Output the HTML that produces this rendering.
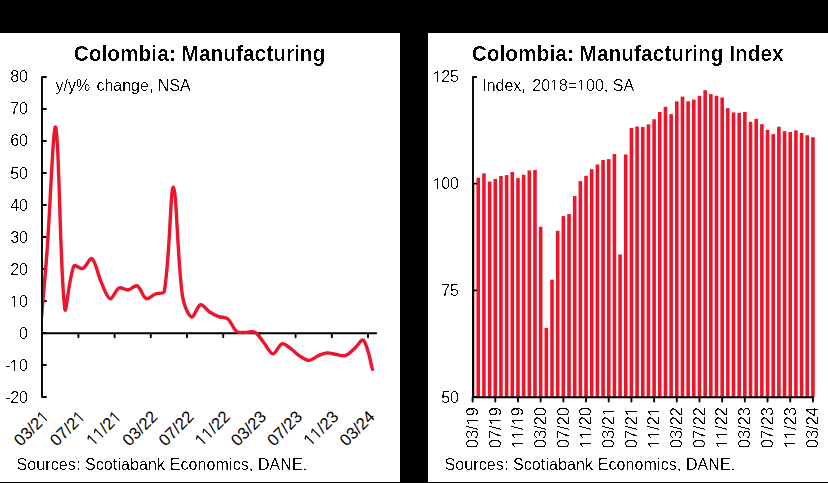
<!DOCTYPE html>
<html><head><meta charset="utf-8"><style>
html,body{margin:0;padding:0;background:#000;width:828px;height:483px;overflow:hidden}
svg{position:absolute;left:0;top:0;display:block}
text{font-family:"Liberation Sans",sans-serif;fill:#000;font-size:16px}
.b{font-weight:bold}
</style></head><body>
<svg width="828" height="483" viewBox="0 0 828 483">
<defs>
<filter id="th" x="0" y="0" width="828" height="483" filterUnits="userSpaceOnUse" color-interpolation-filters="sRGB"><feComponentTransfer><feFuncA type="linear" slope="12" intercept="-6.6"/></feComponentTransfer></filter>
<filter id="th2" x="0" y="0" width="828" height="483" filterUnits="userSpaceOnUse" color-interpolation-filters="sRGB"><feComponentTransfer><feFuncA type="linear" slope="12" intercept="-7.0"/></feComponentTransfer></filter>
<clipPath id="cl"><rect x="43" y="33" width="357" height="449"/></clipPath>
<clipPath id="cr"><rect x="472" y="33" width="356" height="449"/></clipPath>
</defs>
<rect x="0" y="0" width="828" height="483" fill="#000"/>
<rect x="0" y="33" width="400" height="449" fill="#fff"/>
<rect x="428" y="33" width="400" height="449" fill="#fff"/>
<path fill="none" stroke="#000" stroke-width="1.9" stroke-linecap="round" stroke-linejoin="round" d="M46,77 H42 V397 H46 M42,109 H46 M42,141 H46 M42,173 H46 M42,205 H46 M42,237 H46 M42,269 H46 M42,301 H46 M42,333 H46 M42,365 H46 M42,333.2 H376.2 M78.40,333.2 V337.3 M114.60,333.2 V337.3 M150.80,333.2 V337.3 M187.00,333.2 V337.3 M223.20,333.2 V337.3 M259.40,333.2 V337.3 M295.60,333.2 V337.3 M331.80,333.2 V337.3 M368.00,333.2 V337.3"/>
<path d="M37.65,359.63 C39.16,342.36 44.01,290.57 46.70,256.00 C50.04,213.13 53.25,119.99 55.75,127.31 C59.28,137.63 59.94,271.64 64.80,308.92 C65.97,317.90 68.88,277.18 73.85,266.08 C74.91,263.70 80.42,269.51 82.90,268.48 C86.45,267.00 89.83,257.02 91.95,258.56 C95.86,261.40 97.62,274.09 101.00,281.60 C103.65,287.48 106.56,297.52 110.05,298.75 C112.59,299.63 115.46,289.70 119.10,287.93 C121.49,286.77 125.24,290.31 128.15,289.98 C131.27,289.62 134.86,284.74 137.20,285.87 C140.90,287.66 142.59,297.10 146.25,298.74 C148.63,299.80 152.16,295.27 155.30,293.97 C158.20,292.77 163.85,294.20 164.35,291.24 C169.88,258.61 170.45,186.42 173.40,187.20 C176.48,188.01 177.46,260.23 182.45,296.00 C183.50,303.50 187.88,315.27 191.50,317.02 C193.91,318.19 197.12,305.71 200.55,304.76 C203.16,304.04 206.38,309.90 209.60,312.00 C212.42,313.84 215.50,315.43 218.65,316.60 C221.53,317.67 225.45,316.85 227.70,318.70 C231.49,321.82 232.93,328.61 236.75,331.50 C238.97,333.18 242.78,332.28 245.80,332.40 C248.81,332.52 252.47,330.84 254.85,332.20 C258.50,334.29 260.92,339.20 263.90,342.75 C266.96,346.40 269.85,353.62 272.95,353.80 C275.88,353.97 278.59,344.71 282.00,343.79 C284.62,343.07 288.21,346.94 291.05,348.90 C294.24,351.11 296.84,354.23 300.10,356.30 C302.87,358.06 306.17,360.50 309.15,360.40 C312.21,360.30 315.07,356.99 318.20,355.70 C321.10,354.50 324.19,353.12 327.25,352.92 C330.22,352.72 333.27,354.06 336.30,354.50 C339.30,354.93 342.67,356.40 345.35,355.53 C348.70,354.43 351.50,351.05 354.40,348.60 C357.54,345.95 361.71,338.23 363.45,340.22 C367.75,345.15 370.99,364.51 372.50,369.37" fill="none" stroke="#EC162C" stroke-width="3.4" stroke-linejoin="round" stroke-linecap="round" clip-path="url(#cl)"/>
<g clip-path="url(#cr)" fill="#EC162C">
<rect x="470.80" y="184.95" width="3.60" height="212.05"/>
<rect x="476.47" y="177.69" width="3.60" height="219.31"/>
<rect x="482.14" y="173.43" width="3.60" height="223.57"/>
<rect x="487.82" y="181.53" width="3.60" height="215.47"/>
<rect x="493.49" y="178.97" width="3.60" height="218.03"/>
<rect x="499.16" y="175.99" width="3.60" height="221.01"/>
<rect x="504.83" y="175.13" width="3.60" height="221.87"/>
<rect x="510.50" y="171.93" width="3.60" height="225.07"/>
<rect x="516.18" y="178.12" width="3.60" height="218.88"/>
<rect x="521.85" y="174.71" width="3.60" height="222.29"/>
<rect x="527.52" y="170.44" width="3.60" height="226.56"/>
<rect x="533.19" y="170.01" width="3.60" height="226.99"/>
<rect x="538.86" y="226.76" width="3.60" height="170.24"/>
<rect x="544.54" y="327.88" width="3.60" height="69.12"/>
<rect x="550.21" y="279.67" width="3.60" height="117.33"/>
<rect x="555.88" y="230.81" width="3.60" height="166.19"/>
<rect x="561.55" y="216.09" width="3.60" height="180.91"/>
<rect x="567.22" y="213.96" width="3.60" height="183.04"/>
<rect x="572.90" y="196.04" width="3.60" height="200.96"/>
<rect x="578.57" y="181.11" width="3.60" height="215.89"/>
<rect x="584.24" y="175.77" width="3.60" height="221.23"/>
<rect x="589.91" y="169.16" width="3.60" height="227.84"/>
<rect x="595.58" y="164.47" width="3.60" height="232.53"/>
<rect x="601.26" y="159.99" width="3.60" height="237.01"/>
<rect x="606.93" y="159.13" width="3.60" height="237.87"/>
<rect x="612.60" y="154.01" width="3.60" height="242.99"/>
<rect x="618.27" y="254.49" width="3.60" height="142.51"/>
<rect x="623.94" y="154.44" width="3.60" height="242.56"/>
<rect x="629.62" y="127.99" width="3.60" height="269.01"/>
<rect x="635.29" y="126.49" width="3.60" height="270.51"/>
<rect x="640.96" y="126.92" width="3.60" height="270.08"/>
<rect x="646.63" y="124.36" width="3.60" height="272.64"/>
<rect x="652.30" y="119.24" width="3.60" height="277.76"/>
<rect x="657.98" y="111.99" width="3.60" height="285.01"/>
<rect x="663.65" y="106.87" width="3.60" height="290.13"/>
<rect x="669.32" y="114.12" width="3.60" height="282.88"/>
<rect x="674.99" y="101.32" width="3.60" height="295.68"/>
<rect x="680.66" y="96.63" width="3.60" height="300.37"/>
<rect x="686.34" y="101.32" width="3.60" height="295.68"/>
<rect x="692.01" y="99.61" width="3.60" height="297.39"/>
<rect x="697.68" y="95.77" width="3.60" height="301.23"/>
<rect x="703.35" y="90.23" width="3.60" height="306.77"/>
<rect x="709.02" y="94.07" width="3.60" height="302.93"/>
<rect x="714.70" y="95.77" width="3.60" height="301.23"/>
<rect x="720.37" y="97.48" width="3.60" height="299.52"/>
<rect x="726.04" y="108.15" width="3.60" height="288.85"/>
<rect x="731.71" y="112.41" width="3.60" height="284.59"/>
<rect x="737.38" y="112.84" width="3.60" height="284.16"/>
<rect x="743.06" y="111.99" width="3.60" height="285.01"/>
<rect x="748.73" y="121.80" width="3.60" height="275.20"/>
<rect x="754.40" y="118.81" width="3.60" height="278.19"/>
<rect x="760.07" y="124.15" width="3.60" height="272.85"/>
<rect x="765.74" y="129.91" width="3.60" height="267.09"/>
<rect x="771.42" y="134.17" width="3.60" height="262.83"/>
<rect x="777.09" y="126.71" width="3.60" height="270.29"/>
<rect x="782.76" y="131.19" width="3.60" height="265.81"/>
<rect x="788.43" y="132.04" width="3.60" height="264.96"/>
<rect x="794.10" y="130.33" width="3.60" height="266.67"/>
<rect x="799.78" y="132.89" width="3.60" height="264.11"/>
<rect x="805.45" y="135.24" width="3.60" height="261.76"/>
<rect x="811.12" y="137.16" width="3.60" height="259.84"/>
</g>
<path fill="none" stroke="#000" stroke-width="1.9" stroke-linecap="round" stroke-linejoin="round" d="M476.2,77 H473 V397.3 H813.1 M473,183.67 H476.2 M473,290.33 H476.2 M473,397.00 H476.2 M472.60,397.3 V401.6 M495.29,397.3 V401.6 M517.98,397.3 V401.6 M540.66,397.3 V401.6 M563.35,397.3 V401.6 M586.04,397.3 V401.6 M608.73,397.3 V401.6 M631.42,397.3 V401.6 M654.10,397.3 V401.6 M676.79,397.3 V401.6 M699.48,397.3 V401.6 M722.17,397.3 V401.6 M744.86,397.3 V401.6 M767.54,397.3 V401.6 M790.23,397.3 V401.6 M812.92,397.3 V401.6"/>
<g filter="url(#th)">
</g><g filter="url(#th2)"><text class="b" transform="translate(199.50,60.70) scale(0.95,1)" text-anchor="middle" style="font-size:22px">Colombia: Manufacturing</text></g><g filter="url(#th)">
<text x="55.5" y="90.6">y/y% <tspan dx="1.8">change, NSA</tspan></text>
<g transform="translate(28,82.20)"><text x="-17.797" y="0" style="font-size:16px">80</text></g>
<g transform="translate(28,114.30)"><text x="-17.797" y="0" style="font-size:16px">70</text></g>
<g transform="translate(28,146.40)"><text x="-17.797" y="0" style="font-size:16px">60</text></g>
<g transform="translate(28,178.50)"><text x="-17.797" y="0" style="font-size:16px">50</text></g>
<g transform="translate(28,210.60)"><text x="-17.797" y="0" style="font-size:16px">40</text></g>
<g transform="translate(28,242.70)"><text x="-17.797" y="0" style="font-size:16px">30</text></g>
<g transform="translate(28,274.80)"><text x="-17.797" y="0" style="font-size:16px">20</text></g>
<g transform="translate(28,306.90)"><text x="-17.797" y="0" style="font-size:16px"> 0</text><path transform="translate(-18.230,0) scale(0.007812,-0.007812)" d="M535,0L535,1223L197,1010L197,1180L530,1409L676,1409L676,0Z"/></g>
<g transform="translate(28,339.00)"><text x="-8.898" y="0" style="font-size:16px">0</text></g>
<g transform="translate(28,371.10)"><text x="-23.125" y="0" style="font-size:16px">- 0</text><path transform="translate(-18.230,0) scale(0.007812,-0.007812)" d="M535,0L535,1223L197,1010L197,1180L530,1409L676,1409L676,0Z"/></g>
<g transform="translate(28,403.20)"><text x="-23.125" y="0" style="font-size:16px">-20</text></g>
</g><g>
<g transform="translate(50.00,417.60) rotate(-45)"><text x="-41.541" y="0" style="font-size:16.6px">03/2 </text><path transform="translate(-9.232,0) scale(0.008105,-0.008105)" d="M535,0L535,1223L197,1010L197,1180L530,1409L676,1409L676,0Z"/></g>
<g transform="translate(86.20,417.60) rotate(-45)"><text x="-41.541" y="0" style="font-size:16.6px">07/2 </text><path transform="translate(-9.232,0) scale(0.008105,-0.008105)" d="M535,0L535,1223L197,1010L197,1180L530,1409L676,1409L676,0Z"/></g>
<g transform="translate(122.40,417.60) rotate(-45)"><text x="-41.541" y="0" style="font-size:16.6px">  /2 </text><path transform="translate(-41.541,0) scale(0.008105,-0.008105)" d="M535,0L535,1223L197,1010L197,1180L530,1409L676,1409L676,0Z"/><path transform="translate(-32.308,0) scale(0.008105,-0.008105)" d="M535,0L535,1223L197,1010L197,1180L530,1409L676,1409L676,0Z"/><path transform="translate(-9.232,0) scale(0.008105,-0.008105)" d="M535,0L535,1223L197,1010L197,1180L530,1409L676,1409L676,0Z"/></g>
<g transform="translate(158.60,417.60) rotate(-45)"><text x="-41.541" y="0" style="font-size:16.6px">03/22</text></g>
<g transform="translate(194.80,417.60) rotate(-45)"><text x="-41.541" y="0" style="font-size:16.6px">07/22</text></g>
<g transform="translate(231.00,417.60) rotate(-45)"><text x="-41.541" y="0" style="font-size:16.6px">  /22</text><path transform="translate(-41.541,0) scale(0.008105,-0.008105)" d="M535,0L535,1223L197,1010L197,1180L530,1409L676,1409L676,0Z"/><path transform="translate(-32.308,0) scale(0.008105,-0.008105)" d="M535,0L535,1223L197,1010L197,1180L530,1409L676,1409L676,0Z"/></g>
<g transform="translate(267.20,417.60) rotate(-45)"><text x="-41.541" y="0" style="font-size:16.6px">03/23</text></g>
<g transform="translate(303.40,417.60) rotate(-45)"><text x="-41.541" y="0" style="font-size:16.6px">07/23</text></g>
<g transform="translate(339.60,417.60) rotate(-45)"><text x="-41.541" y="0" style="font-size:16.6px">  /23</text><path transform="translate(-41.541,0) scale(0.008105,-0.008105)" d="M535,0L535,1223L197,1010L197,1180L530,1409L676,1409L676,0Z"/><path transform="translate(-32.308,0) scale(0.008105,-0.008105)" d="M535,0L535,1223L197,1010L197,1180L530,1409L676,1409L676,0Z"/></g>
<g transform="translate(375.80,417.60) rotate(-45)"><text x="-41.541" y="0" style="font-size:16.6px">03/24</text></g>
</g><g filter="url(#th)">
<text x="16.5" y="470" style="letter-spacing:0.1px">Sources: Scotiabank Economics, DANE.</text>
</g><g filter="url(#th2)"><text class="b" transform="translate(627.70,60.70) scale(0.95,1)" text-anchor="middle" style="font-size:22px">Colombia: Manufacturing Index</text></g><g filter="url(#th)">
<g transform="translate(482.2,90.6)"><text x="0.000" y="0" style="font-size:16px">Index,</text></g>
<g transform="translate(532.231,90.6)"><text x="0.000" y="0" style="font-size:16px">20 8= 00, SA</text><path transform="translate(17.538,0) scale(0.007812,-0.007812)" d="M535,0L535,1223L197,1010L197,1180L530,1409L676,1409L676,0Z"/><path transform="translate(44.538,0) scale(0.007812,-0.007812)" d="M535,0L535,1223L197,1010L197,1180L530,1409L676,1409L676,0Z"/></g>
<g transform="translate(459,82.20)"><text x="-26.695" y="0" style="font-size:16px"> 25</text><path transform="translate(-26.230,0) scale(0.007812,-0.007812)" d="M535,0L535,1223L197,1010L197,1180L530,1409L676,1409L676,0Z"/></g>
<g transform="translate(459,189.20)"><text x="-26.695" y="0" style="font-size:16px"> 00</text><path transform="translate(-26.230,0) scale(0.007812,-0.007812)" d="M535,0L535,1223L197,1010L197,1180L530,1409L676,1409L676,0Z"/></g>
<g transform="translate(459,296.20)"><text x="-17.797" y="0" style="font-size:16px">75</text></g>
<g transform="translate(459,403.20)"><text x="-17.797" y="0" style="font-size:16px">50</text></g>
</g><g filter="url(#th)">
<g transform="translate(477.90,407.00) rotate(-90)"><text x="-41.290" y="0" style="font-size:16.5px">03/ 9</text><path transform="translate(-18.378,0) scale(0.008057,-0.008057)" d="M535,0L535,1223L197,1010L197,1180L530,1409L676,1409L676,0Z"/></g>
<g transform="translate(500.59,407.00) rotate(-90)"><text x="-41.290" y="0" style="font-size:16.5px">07/ 9</text><path transform="translate(-18.378,0) scale(0.008057,-0.008057)" d="M535,0L535,1223L197,1010L197,1180L530,1409L676,1409L676,0Z"/></g>
<g transform="translate(523.28,407.00) rotate(-90)"><text x="-41.290" y="0" style="font-size:16.5px">  / 9</text><path transform="translate(-41.378,0) scale(0.008057,-0.008057)" d="M535,0L535,1223L197,1010L197,1180L530,1409L676,1409L676,0Z"/><path transform="translate(-32.378,0) scale(0.008057,-0.008057)" d="M535,0L535,1223L197,1010L197,1180L530,1409L676,1409L676,0Z"/><path transform="translate(-18.378,0) scale(0.008057,-0.008057)" d="M535,0L535,1223L197,1010L197,1180L530,1409L676,1409L676,0Z"/></g>
<g transform="translate(545.96,407.00) rotate(-90)"><text x="-41.290" y="0" style="font-size:16.5px">03/20</text></g>
<g transform="translate(568.65,407.00) rotate(-90)"><text x="-41.290" y="0" style="font-size:16.5px">07/20</text></g>
<g transform="translate(591.34,407.00) rotate(-90)"><text x="-41.290" y="0" style="font-size:16.5px">  /20</text><path transform="translate(-41.378,0) scale(0.008057,-0.008057)" d="M535,0L535,1223L197,1010L197,1180L530,1409L676,1409L676,0Z"/><path transform="translate(-32.378,0) scale(0.008057,-0.008057)" d="M535,0L535,1223L197,1010L197,1180L530,1409L676,1409L676,0Z"/></g>
<g transform="translate(614.03,407.00) rotate(-90)"><text x="-41.290" y="0" style="font-size:16.5px">03/2 </text><path transform="translate(-9.378,0) scale(0.008057,-0.008057)" d="M535,0L535,1223L197,1010L197,1180L530,1409L676,1409L676,0Z"/></g>
<g transform="translate(636.72,407.00) rotate(-90)"><text x="-41.290" y="0" style="font-size:16.5px">07/2 </text><path transform="translate(-9.378,0) scale(0.008057,-0.008057)" d="M535,0L535,1223L197,1010L197,1180L530,1409L676,1409L676,0Z"/></g>
<g transform="translate(659.40,407.00) rotate(-90)"><text x="-41.290" y="0" style="font-size:16.5px">  /2 </text><path transform="translate(-41.378,0) scale(0.008057,-0.008057)" d="M535,0L535,1223L197,1010L197,1180L530,1409L676,1409L676,0Z"/><path transform="translate(-32.378,0) scale(0.008057,-0.008057)" d="M535,0L535,1223L197,1010L197,1180L530,1409L676,1409L676,0Z"/><path transform="translate(-9.378,0) scale(0.008057,-0.008057)" d="M535,0L535,1223L197,1010L197,1180L530,1409L676,1409L676,0Z"/></g>
<g transform="translate(682.09,407.00) rotate(-90)"><text x="-41.290" y="0" style="font-size:16.5px">03/22</text></g>
<g transform="translate(704.78,407.00) rotate(-90)"><text x="-41.290" y="0" style="font-size:16.5px">07/22</text></g>
<g transform="translate(727.47,407.00) rotate(-90)"><text x="-41.290" y="0" style="font-size:16.5px">  /22</text><path transform="translate(-41.378,0) scale(0.008057,-0.008057)" d="M535,0L535,1223L197,1010L197,1180L530,1409L676,1409L676,0Z"/><path transform="translate(-32.378,0) scale(0.008057,-0.008057)" d="M535,0L535,1223L197,1010L197,1180L530,1409L676,1409L676,0Z"/></g>
<g transform="translate(750.16,407.00) rotate(-90)"><text x="-41.290" y="0" style="font-size:16.5px">03/23</text></g>
<g transform="translate(772.84,407.00) rotate(-90)"><text x="-41.290" y="0" style="font-size:16.5px">07/23</text></g>
<g transform="translate(795.53,407.00) rotate(-90)"><text x="-41.290" y="0" style="font-size:16.5px">  /23</text><path transform="translate(-41.378,0) scale(0.008057,-0.008057)" d="M535,0L535,1223L197,1010L197,1180L530,1409L676,1409L676,0Z"/><path transform="translate(-32.378,0) scale(0.008057,-0.008057)" d="M535,0L535,1223L197,1010L197,1180L530,1409L676,1409L676,0Z"/></g>
<g transform="translate(818.22,407.00) rotate(-90)"><text x="-41.290" y="0" style="font-size:16.5px">03/24</text></g>
</g><g filter="url(#th)">
<text x="444.5" y="470" style="letter-spacing:0.1px">Sources: Scotiabank Economics, DANE.</text>
</g>
</svg>
</body></html>
